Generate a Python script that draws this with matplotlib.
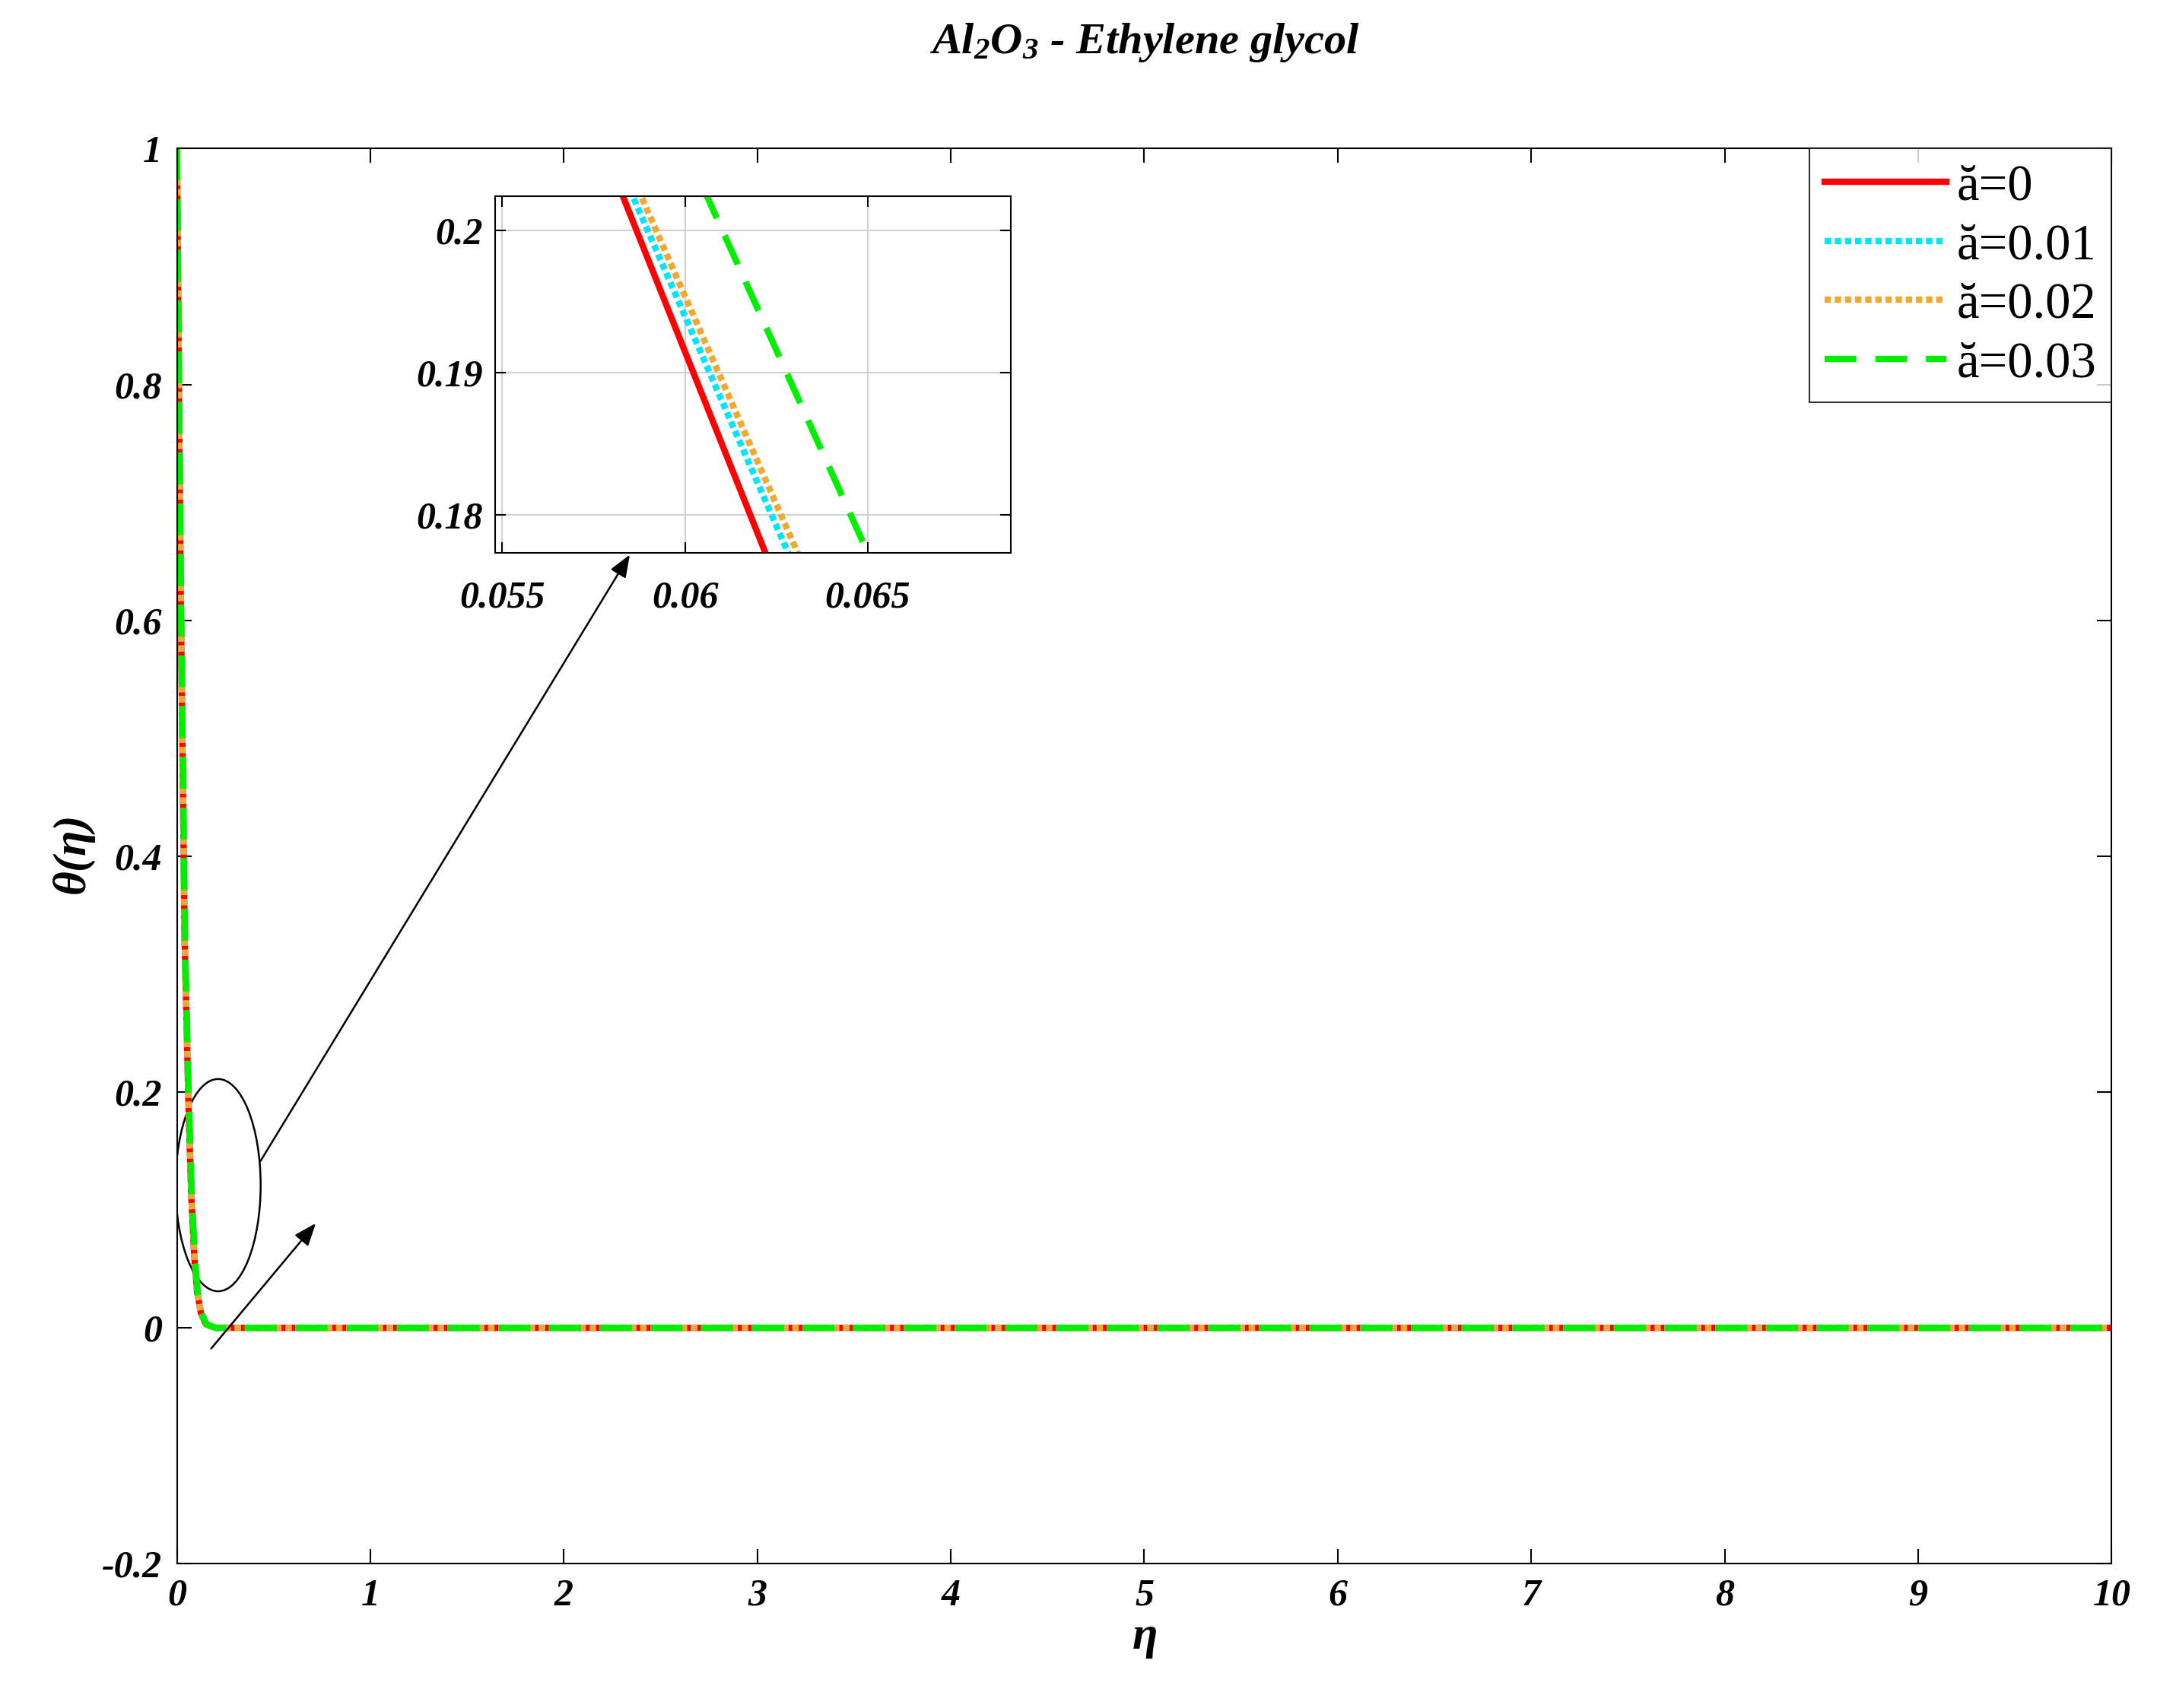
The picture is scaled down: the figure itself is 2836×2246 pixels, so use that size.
import matplotlib
matplotlib.use("Agg")
import matplotlib.pyplot as plt
from matplotlib.patches import Ellipse

plt.rcParams['font.family'] = ['Liberation Serif', 'DejaVu Serif']
plt.rcParams['mathtext.fontset'] = 'custom'
plt.rcParams['mathtext.rm'] = 'Liberation Serif:bold:italic'
plt.rcParams['mathtext.it'] = 'Liberation Serif:bold:italic'
plt.rcParams['mathtext.bf'] = 'Liberation Serif:bold:italic'

# temperature profile theta(eta), shared theta values, per-series eta nodes
theta = [1.0, 0.62, 0.33, 0.2024, 0.1773, 0.11, 0.06, 0.03, 0.012, 0.003, 0.0, 0.0]
eta_a0 = [0, 0.020, 0.040, 0.0583, 0.0622, 0.075, 0.090, 0.105, 0.125, 0.150, 0.2, 10]
eta_a1 = [0, 0.020, 0.040, 0.05857, 0.06282, 0.0755, 0.0905, 0.1055, 0.1255, 0.1505, 0.2, 10]
eta_a2 = [0, 0.020, 0.040, 0.0588, 0.06308, 0.076, 0.091, 0.106, 0.126, 0.151, 0.2, 10]
eta_a3 = [0, 0.021, 0.042, 0.0606, 0.0650, 0.078, 0.093, 0.108, 0.128, 0.153, 0.2, 10]
labels = ['ă=0', 'ă=0.01', 'ă=0.02', 'ă=0.03']

styles = [
    dict(color='#ff0000', ls='-', lw=6),
    dict(color='#00e5ff', ls=(0, (1, 0.6)), lw=6),
    dict(color='#f0a830', ls=(0, (1, 0.6)), lw=6),
    dict(color='#00ee00', ls=(0, (5, 3)), lw=6),
]
series = [eta_a0, eta_a1, eta_a2, eta_a3]

fig = plt.figure(figsize=(28.36, 22.46), dpi=100)
ax = fig.add_axes([0.082, 0.0845, 0.897, 0.8285])
for e, st, lab in zip(series, styles, labels):
    ax.plot(e, theta, label=lab, **st)
ax.set_xlim(0, 10)
ax.set_ylim(-0.2, 1)
ax.set_xticks(range(0, 11))
ax.set_yticks([-0.2, 0, 0.2, 0.4, 0.6, 0.8, 1])
ax.set_yticklabels(['-0.2', '0', '0.2', '0.4', '0.6', '0.8', '1'])
for t in ax.get_xticklabels() + ax.get_yticklabels():
    t.set_fontweight('bold'); t.set_fontstyle('italic'); t.set_fontsize(36)
ax.tick_params(direction='in', top=True, right=True, length=14, width=1.5, pad=14)
for s in ax.spines.values():
    s.set_linewidth(1.5)
ax.set_xlabel(r'$\eta$', fontsize=44)
ax.set_ylabel(r'$\theta(\eta)$', fontsize=44)
ax.set_title(r'$Al_2O_3$ - Ethylene glycol', fontsize=42,
             fontweight='bold', fontstyle='italic', pad=90)
leg = ax.legend(loc='upper right', fontsize=48, frameon=True, fancybox=False,
                edgecolor='black', borderaxespad=0, handlelength=2.4,
                labelspacing=0.25, handletextpad=0.2, borderpad=0.3)
leg.get_frame().set_linewidth(1.5)

ax.add_patch(Ellipse((0.213, 0.121), 0.44, 0.18, fill=False, lw=1.8, color='black'))
ax.annotate('', xy=(0.2925, 0.6763), xycoords='figure fraction',
            xytext=(0.427, 0.14), textcoords='data',
            arrowprops=dict(arrowstyle='-|>,head_length=1.8,head_width=0.7',
                            color='black', lw=1.8))
ax.annotate('', xy=(0.725, 0.09), xytext=(0.17, -0.019),
            arrowprops=dict(arrowstyle='-|>,head_length=1.8,head_width=0.7',
                            color='black', lw=1.8))

ins = fig.add_axes([0.2296, 0.6763, 0.239, 0.209])
for e, st in zip(series, styles):
    ins.plot(e, theta, **st)
ins.set_xlim(0.05481, 0.06891)
ins.set_ylim(0.1773, 0.20242)
ins.set_xticks([0.055, 0.06, 0.065])
ins.set_xticklabels(['0.055', '0.06', '0.065'])
ins.set_yticks([0.18, 0.19, 0.2])
ins.set_yticklabels(['0.18', '0.19', '0.2'])
for t in ins.get_xticklabels() + ins.get_yticklabels():
    t.set_fontweight('bold'); t.set_fontstyle('italic'); t.set_fontsize(36)
ins.tick_params(direction='in', top=True, right=True, length=10, width=1.5, pad=12)
ins.tick_params(axis='x', pad=26)
ins.grid(True, color='#d0d0d0', lw=1.5)
for s in ins.spines.values():
    s.set_linewidth(1.5)

fig.savefig('out.png', dpi=100)
